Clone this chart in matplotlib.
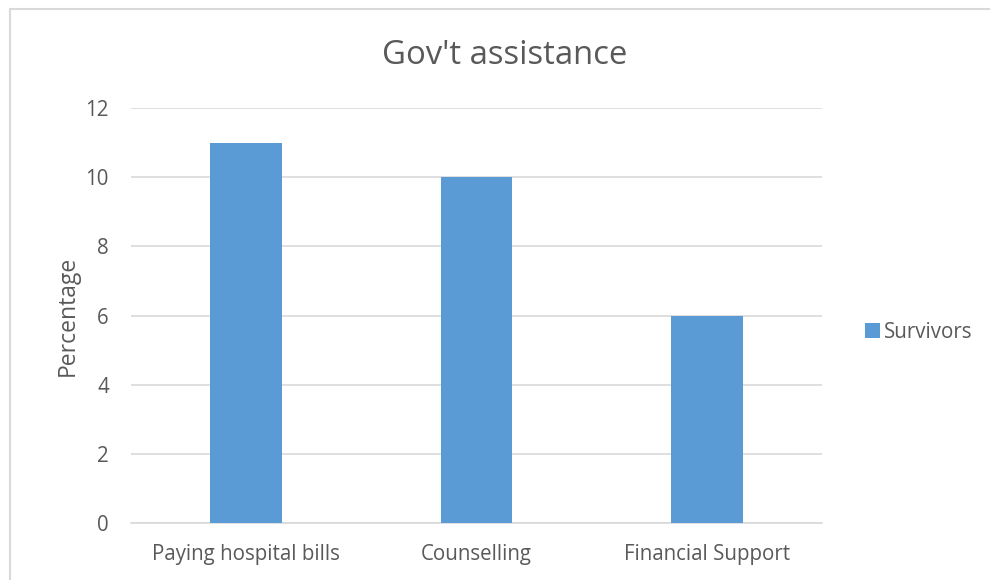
import matplotlib
matplotlib.use("Agg")
import matplotlib.pyplot as plt
from matplotlib.patches import Rectangle

categories = ["Paying hospital bills", "Counselling", "Financial Support"]
survivors = [11, 10, 6]
yticks = [0, 2, 4, 6, 8, 10, 12]

plt.rcParams["font.family"] = ["Open Sans", "DejaVu Sans"]
text_color = "#595959"
grid_color = "#d9d9d9"
bar_color = "#5b9bd5"

fig = plt.figure(figsize=(9.9, 5.8), dpi=100)
ax = fig.add_axes([131 / 990, 1 - 523 / 580, (822 - 131) / 990, (523 - 108) / 580])

x = list(range(len(categories)))
ax.bar(x, survivors, width=0.31, color=bar_color, label="Survivors", zorder=3)

ax.set_xlim(-0.5, len(categories) - 0.5)
ax.set_ylim(0, 12)
ax.set_yticks(yticks)
ax.set_xticks(x)
ax.set_xticklabels(categories)
ax.grid(axis="y", color=grid_color, linewidth=1.2, zorder=0)
for side in ["top", "right", "left"]:
    ax.spines[side].set_visible(False)
ax.spines["bottom"].set_color(grid_color)
ax.spines["bottom"].set_linewidth(1.2)
ax.tick_params(axis="both", length=0, colors=text_color, labelsize=14.8)
ax.tick_params(axis="x", pad=15)
ax.tick_params(axis="y", pad=16)
ax.set_ylabel("Percentage", color=text_color, fontsize=16.5, labelpad=4)

fig.text(0.51, 1 - 55 / 580, "Gov't assistance", ha="center", va="center",
         fontsize=23.7, color=text_color)

fig.legend(loc="center left", bbox_to_anchor=(857 / 990, 1 - 332 / 580), frameon=False,
           fontsize=14.8, labelcolor=text_color, handlelength=0.7, handleheight=0.7,
           handletextpad=0.2, borderaxespad=0)

fig.patches.append(Rectangle((10 / 990, -0.1), 1.2, 1 - 9 / 580 + 0.1, transform=fig.transFigure,
                             fill=False, edgecolor=grid_color, linewidth=1.5))

fig.savefig("out.png", dpi=100)
